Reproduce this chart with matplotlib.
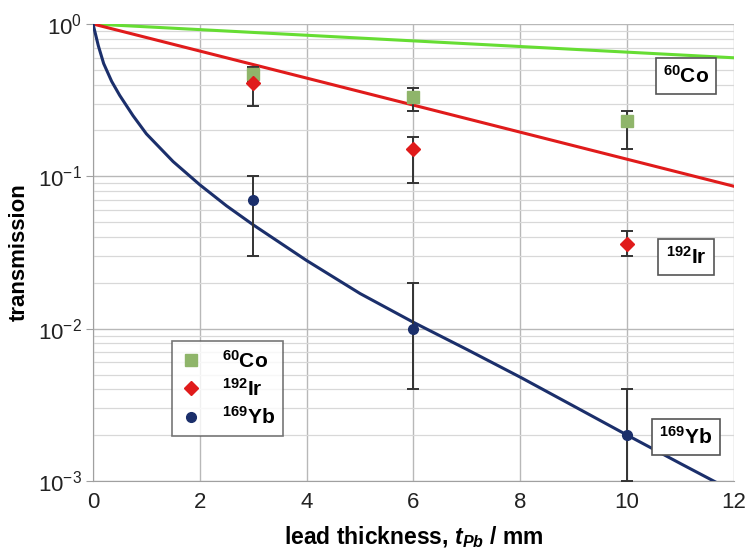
import numpy as np
import matplotlib
matplotlib.use("Agg")
import matplotlib.pyplot as plt
from matplotlib.lines import Line2D
from matplotlib.ticker import LogLocator, NullFormatter, MultipleLocator

plt.rcParams["font.family"] = ["Liberation Sans", "DejaVu Sans"]
plt.rcParams["mathtext.fontset"] = "custom"
plt.rcParams["mathtext.rm"] = "Liberation Sans"
plt.rcParams["mathtext.it"] = "Liberation Sans:italic"
plt.rcParams["mathtext.bf"] = "Liberation Sans:bold"
plt.rcParams["mathtext.bfit"] = "Liberation Sans:italic:bold"

# measured transmission
x_meas = [3, 6, 10]
co_val = [0.47, 0.33, 0.23]
co_lo = [0.42, 0.27, 0.15]
co_hi = [0.52, 0.38, 0.27]
ir_val = [0.41, 0.15, 0.036]
ir_lo = [0.29, 0.09, 0.030]
ir_hi = [0.48, 0.18, 0.044]
yb_val = [0.07, 0.01, 0.002]
yb_lo = [0.03, 0.004, 0.001]
yb_hi = [0.1, 0.02, 0.004]

# calculated attenuation curves
co_x = [0, 12]
co_t = [1.0, 0.60]
ir_x = [0, 12]
ir_t = [1.0, 0.086]
yb_x = [0, 0.05, 0.1, 0.2, 0.35, 0.5, 0.75, 1, 1.5, 2, 2.5, 3, 4, 5, 6, 7, 8, 9, 10, 11, 12]
yb_t = [1.0, 0.85, 0.72, 0.55, 0.42, 0.34, 0.25, 0.19, 0.125, 0.088, 0.064, 0.048,
        0.028, 0.017, 0.011, 0.0073, 0.0048, 0.0031, 0.0020, 0.0013, 0.00085]

labels = [r"$^{\mathbf{60}}$Co", r"$^{\mathbf{192}}$Ir", r"$^{\mathbf{169}}$Yb"]
box_y = [0.455, 0.0295, 0.00195]

c_co_line, c_co_mark = "#66dd33", "#8fb56a"
c_ir = "#e01b1b"
c_yb = "#1b2f6b"
c_err = "#333333"

fig = plt.figure(figsize=(7.48, 5.54), dpi=100)
ax = fig.add_axes([0.1243, 0.1318, 0.857, 0.8249])
ax.set_yscale("log")
ax.set_xlim(0, 12)
ax.set_ylim(1e-3, 1)

ax.plot(co_x, co_t, color=c_co_line, lw=2.2, zorder=3)
ax.plot(ir_x, ir_t, color=c_ir, lw=2.2, zorder=3)
ax.plot(yb_x, yb_t, color=c_yb, lw=2.2, zorder=3)


def err(vals, lo, hi):
    return [np.subtract(vals, lo), np.subtract(hi, vals)]


ekw = dict(ecolor=c_err, elinewidth=1.4, capsize=4, capthick=1.4, zorder=4)
ax.errorbar(x_meas, co_val, yerr=err(co_val, co_lo, co_hi), fmt="s", ms=8,
            color=c_co_mark, **ekw)
ax.errorbar(x_meas, ir_val, yerr=err(ir_val, ir_lo, ir_hi), fmt="D", ms=7,
            color=c_ir, **ekw)
ax.errorbar(x_meas, yb_val, yerr=err(yb_val, yb_lo, yb_hi), fmt="o", ms=7,
            color=c_yb, **ekw)

# grid
ax.xaxis.set_major_locator(MultipleLocator(2))
ax.yaxis.set_major_locator(LogLocator(base=10, numticks=10))
ax.yaxis.set_minor_locator(LogLocator(base=10, subs=np.arange(2, 10), numticks=20))
ax.yaxis.set_minor_formatter(NullFormatter())
ax.grid(True, which="major", color="#b8b8b8", lw=1.0)
ax.grid(True, which="minor", axis="y", color="#d8d8d8", lw=0.9)
ax.set_axisbelow(True)
for s in ["top", "right"]:
    ax.spines[s].set_visible(False)
for s in ["left", "bottom"]:
    ax.spines[s].set_color("#a0a0a0")
ax.tick_params(which="both", length=0, labelsize=16, colors="#222222", pad=8)
ax.tick_params(axis="y", which="major", length=5, color="#a0a0a0", pad=3)

ax.set_ylabel("transmission", fontsize=16, fontweight="bold")
ax.yaxis.set_label_coords(-0.098, 0.5)
ax.set_xlabel(r"lead thickness, $\mathbfit{t}_{\mathbfit{Pb}}$ / mm", fontsize=16.5,
              fontweight="bold", labelpad=8)

handles = [
    Line2D([], [], ls="none", marker="s", ms=8, color=c_co_mark),
    Line2D([], [], ls="none", marker="D", ms=7, color=c_ir),
    Line2D([], [], ls="none", marker="o", ms=7, color=c_yb),
]
leg = ax.legend(handles, labels, loc="lower left", bbox_to_anchor=(0.123, 0.098),
                prop={"weight": "bold", "size": 15}, frameon=True, fancybox=False,
                edgecolor="#555555", borderpad=0.4, labelspacing=0.3,
                handlelength=1.0, handletextpad=1.0, borderaxespad=0)
leg.get_frame().set_linewidth(1.2)

box = dict(boxstyle="square,pad=0.35", fc="white", ec="#555555", lw=1.2)
for label, yv in zip(labels, box_y):
    ax.text(11.1, yv, label, fontsize=15, fontweight="bold", ha="center",
            va="center", bbox=box, zorder=6)

fig.savefig("out.png", dpi=100)
